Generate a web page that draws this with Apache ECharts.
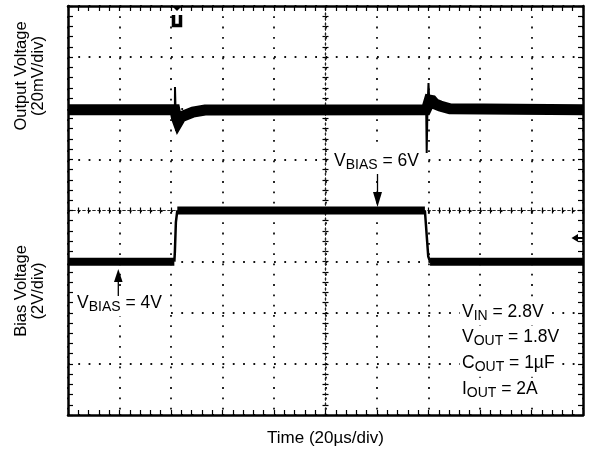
<!DOCTYPE html>
<html>
<head>
<meta charset="utf-8">
<script src="https://cdn.jsdelivr.net/npm/echarts@6.0.0/dist/echarts.min.js"></script>
<style>
  html, body { margin: 0; padding: 0; background: #fff; }
  #chart { width: 590px; height: 454px; }
</style>
</head>
<body>
<div id="chart"></div>
<script>
// Scope capture: output voltage (20 mV/div) and bias voltage (2 V/div) vs time (20 µs/div).
// null marks a break in a trace.

// Output voltage, settled trace (drawn as the thick noisy band), µs / mV
const outBandTime = [0, 41.5, 41.75, 42.14, 42.72, 43.88, 45.83, 48.54, 53.2, 139.0, 139.5, 140.3, 141.4, 142.5, 144.5, 148.3, 200];
const outBandMv   = [1799.4, 1799.4, 1799.7, 1796.2, 1794.6, 1796.6, 1797.4, 1798.5, 1799.3, 1799.4, 1800.5, 1803.2, 1803.0, 1801.7, 1800.9, 1799.8, 1799.4];

// Output voltage, fast spikes at the bias steps, µs / mV
const outSpikeTime = [41.5, 41.55, 41.75, 42.0, 42.3, null, 139.1, 139.3, 139.6, 140.0, 140.3];
const outSpikeMv   = [1799.4, 1808.3, 1800.0, 1791.1, 1795.5, null, 1799.4, 1782.5, 1800.0, 1809.9, 1803.0];

// Bias voltage levels, µs / V
const biasLevelTime = [0, 41.3, null, 42.45, 138.6, null, 140.6, 200];
const biasLevelV    = [4, 4, null, 6, 6, null, 4, 4];

// Bias voltage edges, µs / V
const biasEdgeTime = [41.3, 41.5, 41.9, 42.45, null, 138.6, 139.0, 139.9, 140.6];
const biasEdgeV    = [4, 4.38, 5.55, 6, null, 6, 5.45, 4.2, 4];

// Axis ranges (8 vertical and 10 horizontal divisions)
const timeRange = [0, 200];      // µs, 20 µs/div
const outRange  = [1680, 1840];  // mV, 20 mV/div
const biasRange = [-2, 14];      // V, 2 V/div

function pairs(xs, ys) {
  return xs.map((x, i) => (x === null || ys[i] === null) ? ['-', '-'] : [x, ys[i]]);
}

const FONT = '"Liberation Sans", Arial, Helvetica, sans-serif';
const tickStyle = { color: '#000', width: 1.2 };
const gridDots = { color: '#111', width: 1.8, type: [1.8, 8.5] };

function frameX(position, withGrid) {
  return {
    type: 'value', position: position, min: timeRange[0], max: timeRange[1], interval: 20,
    axisLine: { show: true, onZero: false, lineStyle: { color: '#000', width: 2.5 } },
    axisTick: { show: true, inside: true, length: 5, lineStyle: tickStyle },
    minorTick: { show: true, splitNumber: 5, length: 5, lineStyle: tickStyle },
    axisLabel: { show: false },
    splitLine: { show: withGrid, lineStyle: gridDots },
    minorSplitLine: { show: false }
  };
}
function frameY(position, range, interval, withGrid) {
  return {
    type: 'value', position: position, min: range[0], max: range[1], interval: interval,
    axisLine: { show: true, onZero: false, lineStyle: { color: '#000', width: 2.5 } },
    axisTick: { show: true, inside: true, length: 5, lineStyle: tickStyle },
    minorTick: { show: true, splitNumber: 5, length: 5, lineStyle: tickStyle },
    axisLabel: { show: false },
    splitLine: { show: withGrid, lineStyle: gridDots },
    minorSplitLine: { show: false }
  };
}
// Centre cross of the graticule, ticks on both sides
function centreX(inside) {
  return {
    type: 'value', position: 'bottom', min: -100, max: 100, interval: 20,
    axisLine: { show: true, onZero: true, onZeroAxisIndex: 2, lineStyle: { color: '#222', width: 1.2, type: [2, 3] } },
    axisTick: { show: true, inside: inside, length: 3, lineStyle: tickStyle },
    minorTick: { show: true, splitNumber: 5, length: 3, lineStyle: tickStyle },
    axisLabel: { show: false }, splitLine: { show: false }
  };
}
function centreY(inside) {
  return {
    type: 'value', position: 'left', min: -4, max: 4, interval: 1,
    axisLine: { show: true, onZero: true, onZeroAxisIndex: 2, lineStyle: { color: '#222', width: 1.2, type: [2, 3] } },
    axisTick: { show: true, inside: inside, length: 3, lineStyle: tickStyle },
    minorTick: { show: true, splitNumber: 5, length: 3, lineStyle: tickStyle },
    axisLabel: { show: false }, splitLine: { show: false }
  };
}

const bottomAxis = frameX('bottom', true);
bottomAxis.name = 'Time (20µs/div)';
bottomAxis.nameLocation = 'middle';
bottomAxis.nameGap = 15;
bottomAxis.nameTextStyle = { fontFamily: FONT, fontSize: 17, color: '#000' };

function trace(data, yIndex, width) {
  return {
    type: 'line', xAxisIndex: 0, yAxisIndex: yIndex, data: data,
    symbol: 'none', showSymbol: false, connectNulls: false, silent: true,
    lineStyle: { color: '#000', width: width, join: 'miter' },
    emphasis: { disabled: true }, animation: false
  };
}

const sub = (main, s, rest, size, subSize) => ({
  text: '{v|' + main + '}{s|' + s + '}{v|' + rest + '}',
  fill: '#000',
  backgroundColor: '#fff',
  padding: [1, 2, 2, 2],
  rich: {
    v: { fontFamily: FONT, fontSize: size, lineHeight: size + 4, fill: '#000' },
    s: { fontFamily: FONT, fontSize: subSize, lineHeight: subSize - 4, verticalAlign: 'bottom', fill: '#000' }
  }
});

function annot(x, y, main, s, rest) {
  const st = sub(main, s, rest, 17.5, 14);
  st.align = 'left';
  st.verticalAlign = 'middle';
  return { type: 'text', x: x - 2, y: y, z: 100, style: st, silent: true };
}

function title(x, y, text) {
  return { type: 'text', x: x, y: y, rotation: Math.PI / 2, silent: true,
    style: { text: text, fontFamily: FONT, fontSize: 16.5, fill: '#000', align: 'center', verticalAlign: 'middle' } };
}

const chart = echarts.init(document.getElementById('chart'), null, { renderer: 'canvas' });
chart.setOption({
  animation: false,
  backgroundColor: '#fff',
  grid: { left: 68, right: 7, top: 6, bottom: 39, containLabel: false, outerBoundsMode: 'none' },
  xAxis: [bottomAxis, frameX('top', false), centreX(true), centreX(false)],
  yAxis: [frameY('left', outRange, 20, true), frameY('right', biasRange, 2, false), centreY(true), centreY(false)],
  series: [
    trace(pairs(outBandTime, outBandMv), 0, 11),
    trace(pairs(outSpikeTime, outSpikeMv), 0, 2),
    trace(pairs(biasLevelTime, biasLevelV), 1, 8),
    trace(pairs(biasEdgeTime, biasEdgeV), 1, 2.5)
  ],
  graphic: [
    // y-axis titles
    title(21, 76, 'Output Voltage'),
    title(38, 76, '(20mV/div)'),
    title(21, 291, 'Bias Voltage'),
    title(38, 291, '(2V/div)'),

    // trace annotations
    annot(334, 162, 'V', 'BIAS', ' = 6V'),
    { type: 'line', z: 100, shape: { x1: 377.5, y1: 174, x2: 377.5, y2: 196 }, style: { stroke: '#000', lineWidth: 1.3 }, silent: true },
    { type: 'polygon', z: 100, shape: { points: [[373, 192], [382, 192], [377.5, 207]] }, style: { fill: '#000' }, silent: true },

    annot(77, 304, 'V', 'BIAS', ' = 4V'),
    { type: 'line', z: 100, shape: { x1: 118.3, y1: 279, x2: 118.3, y2: 296 }, style: { stroke: '#000', lineWidth: 1.3 }, silent: true },
    { type: 'polygon', z: 100, shape: { points: [[114, 282], [122.6, 282], [118.3, 269]] }, style: { fill: '#000' }, silent: true },

    // test conditions
    annot(462, 313, 'V', 'IN', ' = 2.8V'),
    annot(462, 338, 'V', 'OUT', ' = 1.8V'),
    annot(462, 364, 'C', 'OUT', ' = 1µF'),
    annot(462, 390, 'I', 'OUT', ' = 2A'),

    // trigger position marker
    { type: 'polygon', z: 100, shape: { points: [[172, 6], [182, 6], [177, 11]] }, style: { fill: '#000' }, silent: true },
    { type: 'polyline', z: 100, shape: { points: [[173.5, 15], [173.5, 25.5], [180.5, 25.5], [180.5, 15]] },
      style: { stroke: '#000', lineWidth: 3.5, fill: null }, silent: true },

    // channel reference marker on the right edge
    { type: 'polygon', z: 100, shape: { points: [[571.5, 238], [578, 234], [578, 242]] }, style: { fill: '#000' }, silent: true },
    { type: 'line', z: 100, shape: { x1: 577, y1: 238, x2: 583, y2: 238 }, style: { stroke: '#000', lineWidth: 2 }, silent: true }
  ]
});
</script>
</body>
</html>
